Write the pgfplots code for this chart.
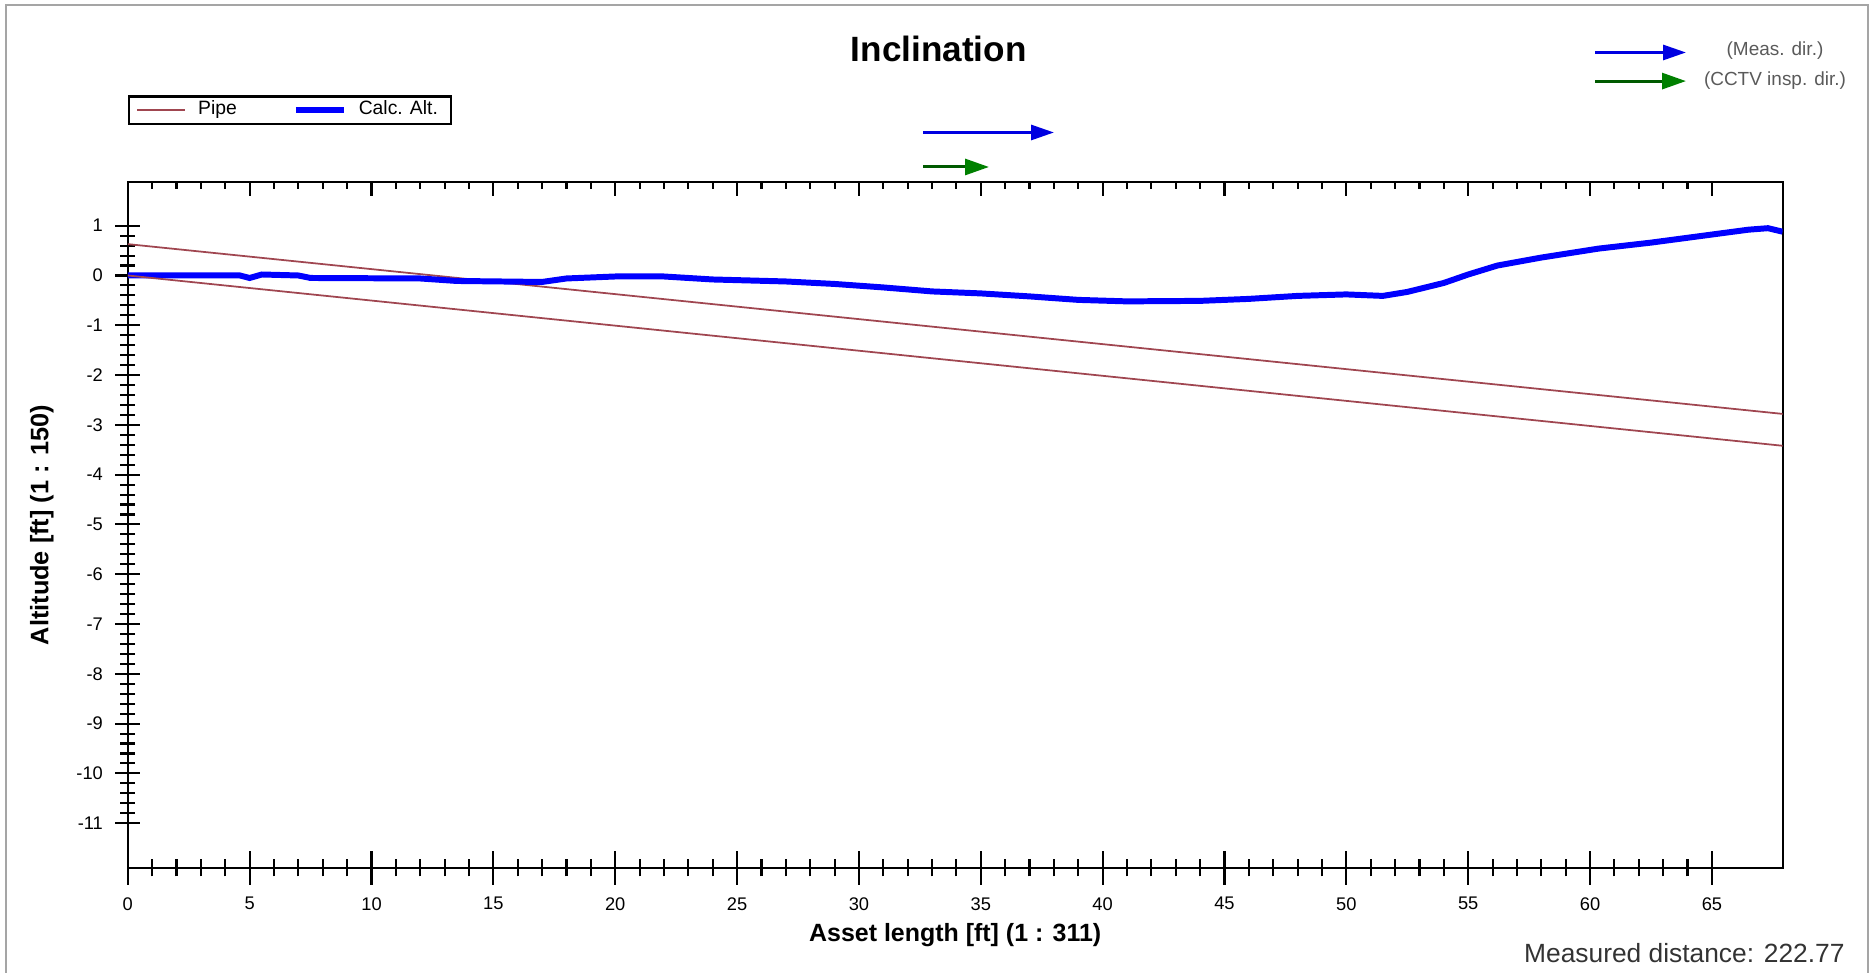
\documentclass[border=0pt]{standalone}
\usepackage{fontspec}
\setmainfont{Liberation Sans}
\usepackage{pgfplots}
\pgfplotsset{compat=1.18}
\usetikzlibrary{arrows.meta}

\definecolor{pipered}{RGB}{160,70,80}
\definecolor{calcblue}{RGB}{0,0,255}
\definecolor{arrblue}{RGB}{0,0,225}
\definecolor{arrgreen}{RGB}{0,128,0}
\definecolor{framegray}{RGB}{165,165,165}
\definecolor{txtgray}{RGB}{90,90,90}

\newcommand\fs[1]{\fontsize{#1}{#1}\selectfont}

\pgfplotsset{
  common/.style={
    at={(12.78mm,10.5mm)}, anchor=south west,
    scale only axis, width=165.48mm, height=68.56mm,
    xmin=0, xmax=67.9,
    axis line style={line width=0.6pt},
    every tick/.style={black, line width=0.6pt},
    /pgf/number format/assume math mode=true,
  },
}

\begin{document}
\begin{tikzpicture}
\path[use as bounding box] (0,0) rectangle (187.2mm,97.3mm);
\draw[framegray, line width=0.25mm] (0.6mm,0) -- (0.6mm,96.8mm) -- (186.8mm,96.8mm) -- (186.8mm,0);

% main axis: data, left ticks, labels, legend
\begin{axis}[common,
    ymin=-11.9, ymax=1.87,
    xtick=\empty,
    ytick={-11,-10,-9,-8,-7,-6,-5,-4,-3,-2,-1,0,1},
    yticklabels={-11,-10,-9,-8,-7,-6,-5,-4,-3,-2,-1,0,1},
    minor y tick num=4,
    ytick pos=left, tick align=center,
    major tick length=2.5mm, minor tick length=1.5mm,
    yticklabel style={font=\fs{5.2}},
    title={Inclination},
    title style={at={(axis description cs:0.49,1.195)}, anchor=center, yshift=-6pt, font=\bfseries\fs{10}},
    xlabel={Asset length [ft] (1 : 311)},
    xlabel style={at={(axis description cs:0.5,-0.098)}, anchor=center, font=\bfseries\fs{7.1}},
    ylabel={Altitude [ft] (1 : 150)},
    ylabel style={at={(axis description cs:-0.052,0.5)}, anchor=center, font=\bfseries\fs{7.2}},
    legend columns=2,
    legend style={at={(axis description cs:0,1.1268)}, anchor=north west,
        draw=black, line width=0.6pt, font=\fs{5.5},
        inner xsep=0.75mm, inner ysep=0.25mm,
        nodes={inner xsep=0.6mm, inner ysep=0.15mm},
        /tikz/every odd column/.append style={column sep=0.6mm},
        /tikz/every even column/.append style={column sep=5.0mm}},
    legend image code/.code={\draw[#1] (0mm,0mm) -- (4.8mm,0mm);},
]
\addplot[pipered, line width=0.5pt] coordinates {(0,0.63) (67.9,-2.78)};
\addlegendentry{Pipe}
\addplot[calcblue, line width=1.7pt] coordinates {
    (0,0.0) (4.6,0.0) (5.0,-0.05) (5.5,0.02) (7,0.0) (7.5,-0.05) (12,-0.06)
    (13.5,-0.11) (17,-0.13) (18,-0.06) (20,-0.02) (22,-0.02) (24,-0.08)
    (27,-0.12) (29,-0.17) (31,-0.24) (33,-0.32) (35,-0.36) (37,-0.42)
    (39,-0.49) (41,-0.52) (44,-0.51) (46,-0.47) (48,-0.41) (50,-0.38)
    (51.5,-0.41) (52.5,-0.33) (54,-0.15) (55,0.02) (56.2,0.2) (58,0.36)
    (60.35,0.54) (62.5,0.66) (64.5,0.79) (66.5,0.92) (67.3,0.95) (67.9,0.88)
};
\addlegendentry{Calc. Alt.}
\addplot[pipered, line width=0.5pt, forget plot] coordinates {(0,0) (67.9,-3.42)};
\node[font=\fs{6.8}, text=black!85] at (axis description cs:0.0237,1.0256) {109};
\node[font=\fs{6.8}, text=black!85] at (axis description cs:0.9749,1.0256) {108};
\end{axis}

% bottom x ticks
\begin{axis}[common, ymin=0, ymax=1,
    axis x line*=bottom, axis y line=none,
    xtick={0,5,...,65}, minor x tick num=4,
    tick align=center, major tick length=3.4mm, minor tick length=1.7mm,
    xticklabel style={font=\fs{5.2}},
]
\end{axis}

% top x ticks
\begin{axis}[common, ymin=0, ymax=1,
    axis x line*=top, axis y line=none,
    xtick={0,5,...,65}, minor x tick num=4, xticklabels={},
    tick align=inside, major tick length=1.4mm, minor tick length=0.7mm,
]
\end{axis}

% direction arrows
\draw[arrblue, line width=0.3mm, -{Triangle[length=2.3mm,width=1.5mm]}] (92.3mm,84.05mm) -- (105.4mm,84.05mm);
\draw[arrgreen!70!black, line width=0.3mm, -{Triangle[length=2.4mm,width=1.6mm,color=arrgreen]}] (92.3mm,80.6mm) -- (98.9mm,80.6mm);
\draw[arrblue, line width=0.3mm, -{Triangle[length=2.3mm,width=1.5mm]}] (159.5mm,92.05mm) -- (168.6mm,92.05mm);
\draw[arrgreen!70!black, line width=0.3mm, -{Triangle[length=2.4mm,width=1.6mm,color=arrgreen]}] (159.5mm,89.19mm) -- (168.6mm,89.19mm);
\node[font=\fs{5.4}, text=txtgray] at (177.5mm,92.2mm) {(Meas. dir.)};
\node[font=\fs{5.4}, text=txtgray] at (177.5mm,89.2mm) {(CCTV insp. dir.)};
\node[font=\fs{7.5}, text=black!80, anchor=east] at (185.7mm,2.0mm) {Measured distance: 222.77};
\end{tikzpicture}
\end{document}
